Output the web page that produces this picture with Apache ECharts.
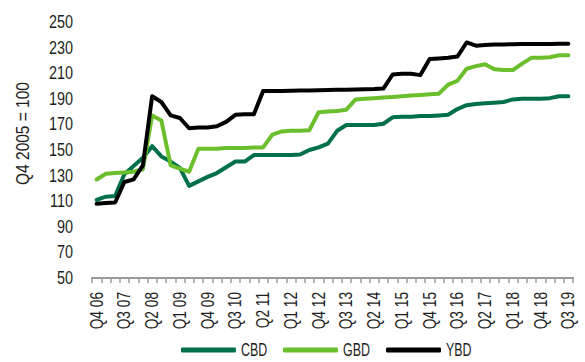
<!DOCTYPE html>
<html>
<head>
<meta charset="utf-8">
<script src="https://cdn.jsdelivr.net/npm/echarts@6/dist/echarts.min.js"></script>
<style>
  html, body { margin: 0; padding: 0; background: #ffffff; }
  #chart { width: 585px; height: 362px; }
</style>
</head>
<body>
<div id="chart"></div>
<script>
// Quarterly office rent index by district, Q4 2005 = 100
const quarters = [
  'Q4 06',
  'Q1 07', 'Q2 07', 'Q3 07', 'Q4 07',
  'Q1 08', 'Q2 08', 'Q3 08', 'Q4 08',
  'Q1 09', 'Q2 09', 'Q3 09', 'Q4 09',
  'Q1 10', 'Q2 10', 'Q3 10', 'Q4 10',
  'Q1 11', 'Q2 11', 'Q3 11', 'Q4 11',
  'Q1 12', 'Q2 12', 'Q3 12', 'Q4 12',
  'Q1 13', 'Q2 13', 'Q3 13', 'Q4 13',
  'Q1 14', 'Q2 14', 'Q3 14', 'Q4 14',
  'Q1 15', 'Q2 15', 'Q3 15', 'Q4 15',
  'Q1 16', 'Q2 16', 'Q3 16', 'Q4 16',
  'Q1 17', 'Q2 17', 'Q3 17', 'Q4 17',
  'Q1 18', 'Q2 18', 'Q3 18', 'Q4 18',
  'Q1 19', 'Q2 19', 'Q3 19'
];

const cbd = [
  111, 113.5, 114, 131, 137.5, 144, 153, 145, 141, 136, 122, 125.5, 129,
  132, 136.5, 141, 141, 146, 146, 146, 146, 146, 146.5, 150, 152, 155,
  165, 169.5, 169.5, 169.5, 169.5, 170.5, 175.5, 176, 176, 176.5, 176.5, 177,
  177.5, 182, 185, 186, 186.5, 187, 187.5, 189.5, 190, 190, 190, 190.5, 192, 192
];

const gbd = [
  127, 131.5, 132, 132.5, 133, 135, 177, 173, 138, 135.5, 133, 151, 151,
  151, 151.5, 151.5, 151.5, 152, 152, 162, 164.5, 165, 165, 165.5, 179.5, 180,
  180.5, 181.5, 189.5, 190, 190.5, 191, 191.5, 192, 192.5, 193, 193.5, 194,
  201, 204, 213.5, 215.5, 217, 213, 212.5, 212.5, 217.5, 222, 222, 222.5, 224, 224
];

const ybd = [
  108, 108.5, 109, 125, 127, 138, 192, 187.5, 177, 175, 167, 167.5, 167.5,
  168.5, 172, 177.5, 178, 178, 196, 196, 196, 196.3, 196.5, 196.5, 196.7, 196.8,
  197, 197, 197.2, 197.4, 197.6, 198, 209, 209.5, 209.5, 208.5, 221, 221.5,
  222, 223, 234, 231.5, 232, 232.5, 232.5, 232.7, 232.8, 232.8, 232.8, 232.8, 233, 233
];

const seriesNames = ['CBD', 'GBD', 'YBD'];
const seriesColors = ['#00704a', '#6cbf2c', '#000000'];
const seriesData = [cbd, gbd, ybd];
const yAxisName = 'Q4 2005 = 100';

const FONT = "'Liberation Sans', Arial, sans-serif";
const TEXT = '#1e1e1e';

const chart = echarts.init(document.getElementById('chart'), null, { renderer: 'svg' });

chart.setOption({
  animation: false,
  backgroundColor: '#ffffff',
  textStyle: { fontFamily: FONT, color: TEXT },
  grid: { left: 92, right: 12, top: 22, bottom: 84, containLabel: false },
  legend: {
    left: 176,
    top: 336,
    icon: 'roundRect',
    itemWidth: 55,
    itemHeight: 5,
    itemGap: 4,
    textStyle: { fontFamily: FONT, fontSize: 18, color: TEXT },
    data: seriesNames
  },
  xAxis: {
    type: 'category',
    data: quarters,
    boundaryGap: true,
    axisLine: { show: true, lineStyle: { color: '#9a9a9a', width: 2 } },
    axisTick: { show: true, interval: 0, length: 5, lineStyle: { color: '#9a9a9a', width: 1.5 } },
    axisLabel: {
      interval: 2,
      rotate: 90,
      margin: 14,
      fontFamily: FONT,
      fontSize: 18,
      color: TEXT
    },
    splitLine: { show: false }
  },
  yAxis: {
    type: 'value',
    min: 50,
    max: 250,
    interval: 20,
    name: yAxisName,
    nameLocation: 'middle',
    nameGap: 59,
    nameTextStyle: { fontFamily: FONT, fontSize: 18, color: TEXT, padding: [0, 0, 0, 33] },
    axisLine: { show: false },
    axisTick: { show: false },
    axisLabel: { margin: 19, fontFamily: FONT, fontSize: 18, color: TEXT },
    splitLine: { show: false }
  },
  series: seriesNames.map((name, k) => ({
    name: name,
    type: 'line',
    data: seriesData[k],
    showSymbol: false,
    symbol: 'none',
    smooth: false,
    color: seriesColors[k],
    lineStyle: { color: seriesColors[k], width: 4, join: 'round', cap: 'round' },
    z: 3 + k
  }))
});

// Condensed lettering: squeeze each SVG text run horizontally around its anchor
function condenseText() {
  const svg = document.querySelector('#chart svg');
  if (!svg) return;
  svg.querySelectorAll('text').forEach(t => {
    if (t.getAttribute('data-condensed')) return;
    const s = t.textContent;
    let k = 0.8;                                    // value-axis numbers
    if (/^Q\d \d\d$/.test(s)) k = 0.76;             // quarter labels
    else if (seriesNames.indexOf(s) >= 0) k = 0.69; // legend names
    else if (s === yAxisName) k = 0.86;             // axis title
    const w = t.getComputedTextLength();
    if (w > 0) {
      t.setAttribute('textLength', (w * k).toFixed(2));
      t.setAttribute('lengthAdjust', 'spacingAndGlyphs');
      t.setAttribute('data-condensed', '1');
    }
  });
}
condenseText();
chart.on('finished', condenseText);
</script>
</body>
</html>
